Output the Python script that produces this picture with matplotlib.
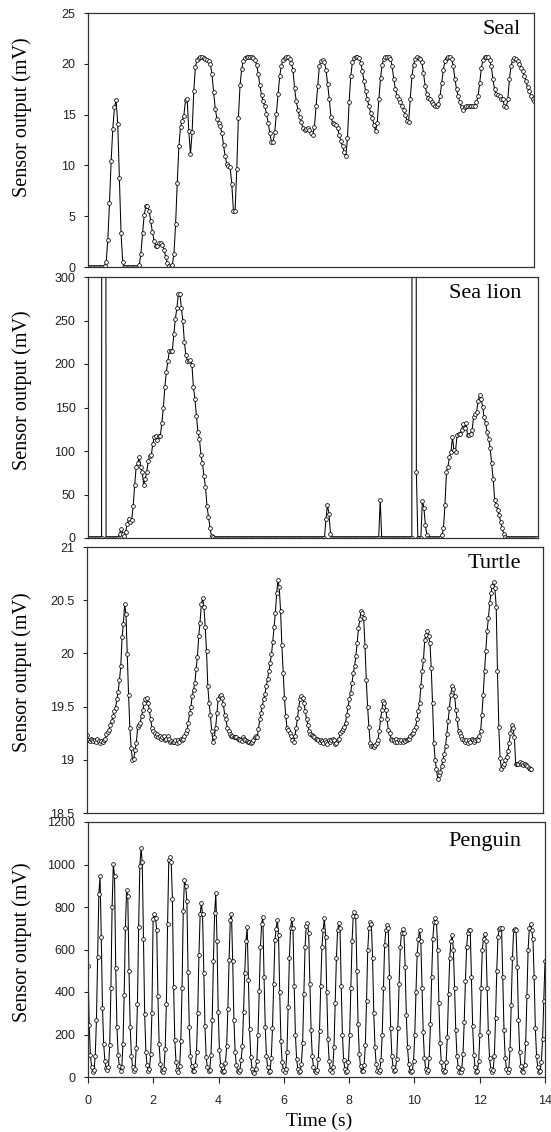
import numpy as np
import matplotlib
matplotlib.use("Agg")
import matplotlib.pyplot as plt
from matplotlib.ticker import FuncFormatter

# ---------------------------------------------------------------- data (mV)
seal_end = 13.67
seal_mv = [
    0, 0, 0, 0, 0, 0, 0, 0, 0, 0, 0.1,
    0.5, 2.7, 6.3, 10.4, 13.6, 15.7, 16.4, 14.1, 8.8, 3.3, 0.5, 0,
    0, 0, 0, 0, 0, 0, 0, 0,
    0.2, 1.3, 3.3, 5.1, 6.0, 6.0, 5.5, 4.5, 3.4, 2.6, 2.1, 2.1, 2.4, 2.4, 2.2,
    1.7, 1.0, 0.4, 0.1, 0, 0.2,
    1.3, 4.2, 8.3, 11.9, 13.8, 14.4, 14.9, 16.4, 16.5, 13.4, 11.1, 13.3, 17.3,
    19.7, 20.4, 20.6, 20.7, 20.7, 20.6, 20.5, 20.4, 20.3, 20.0, 19.0, 17.2,
    15.6, 14.6, 14.2, 13.9, 13.2, 12.0, 10.9, 10.1, 9.9, 9.8, 8.2, 5.5, 5.5,
    9.6, 14.7, 17.9, 19.5, 20.3, 20.6, 20.7, 20.7, 20.7, 20.7, 20.6, 20.4,
    19.9, 19.0, 17.9, 16.9, 16.3, 15.8, 15.1, 14.2, 13.2, 12.3, 12.3, 13.3,
    15.1,
    17.0, 18.8, 19.8, 20.4, 20.6, 20.7, 20.7, 20.5, 20.1, 19.4, 17.6, 16.3,
    15.5, 14.8, 14.3, 13.7, 13.5, 13.6, 13.7, 13.5, 13.2, 13.0, 13.8, 15.8,
    17.8, 19.8, 20.3, 20.4, 20.2, 19.4, 18.0, 16.5, 14.8, 14.2, 14.1, 14.0,
    13.7, 13.0, 12.4, 11.9, 11.3, 10.9, 12.7, 16.2, 18.8, 20.2, 20.6, 20.7,
    20.7, 20.6, 20.1, 19.3, 18.3, 17.3, 16.5, 15.8, 15.2, 14.7, 14.0, 13.4,
    14.2, 16.5, 18.6, 19.9, 20.5, 20.7, 20.7, 20.7, 20.5, 19.8, 18.5, 17.5,
    16.8, 16.5, 16.2, 15.8, 15.5, 15.0, 14.4, 14.3, 16.5, 18.8, 19.9, 20.5,
    20.7, 20.6, 20.5, 20.2, 19.1, 17.8, 17.0, 16.6, 16.5, 16.2, 16.0, 15.8,
    15.8, 16.0, 16.8, 18.1, 19.4, 20.3, 20.6, 20.7, 20.7, 20.5, 19.8, 18.5,
    17.5, 16.8, 16.2, 15.7, 15.5, 15.7, 15.8, 15.8, 15.8, 15.8, 15.8, 15.8,
    16.2, 16.8, 18.1, 19.6, 20.4, 20.7, 20.7, 20.7, 20.4, 19.8, 18.5, 17.5,
    17.0, 16.9, 16.8, 16.5, 16.5, 15.8, 15.7, 16.5, 18.5, 19.8, 20.4, 20.6,
    20.5, 20.3, 20.0, 19.6, 19.3, 18.8, 18.3, 17.7, 17.3, 16.8, 16.5, 16.3,
]

# off-scale saturation samples are stored as 3000 mV
sealion_end = 13.75
sealion_mv = (
    [0] * 10 + [3000, 3000] + [0] * 9
    + [5, 10.8, 5, 2, 7, 16, 22, 18, 21, 37, 61, 82, 86, 93, 82, 76, 61, 68,
       76, 88, 94, 95, 108, 116, 117, 113, 117, 117, 132, 149, 173, 191, 203,
       215, 215, 215, 235, 252, 264, 281, 281, 264, 249, 225, 210, 204, 204,
       205, 199, 173, 160, 140, 122, 114, 95, 86, 71, 59, 37, 24, 12, 2, 1]
    + [0] * 74
    + [22, 38, 28, 5]
    + [0] * 32 + [44] + [0] * 21
    + [3000, 3000, 76, 0, 0, 0, 43, 35, 15, 3]
    + [0] * 9
    + [3, 11, 38, 76, 82, 93, 99, 116, 101, 99, 118, 120, 120, 124, 131, 126,
       132, 118, 118, 120, 124, 139, 143, 145, 157, 164, 160, 151, 139, 132,
       122, 114, 103, 86, 68, 44, 38, 32, 26, 18, 11, 5, 1]
    + [0] * 21
)

turtle_end = 13.61
turtle_mv = [
    19.23, 19.19, 19.18, 19.20, 19.19, 19.18, 19.19, 19.17, 19.20, 19.18,
    19.16, 19.18,
    19.17, 19.19, 19.20, 19.24, 19.26, 19.28, 19.33, 19.36, 19.41, 19.46,
    19.49, 19.57, 19.64, 19.75, 19.88, 20.15, 20.28, 20.46, 20.37, 19.99,
    19.61, 19.30, 19.11, 19.00, 19.01, 19.09, 19.16, 19.31, 19.33, 19.35,
    19.41, 19.47, 19.53, 19.57, 19.58, 19.53, 19.47, 19.38, 19.30, 19.27,
    19.25, 19.22, 19.24, 19.21, 19.22, 19.20, 19.21, 19.22, 19.19, 19.20,
    19.22, 19.20, 19.17, 19.18, 19.17, 19.17, 19.19, 19.16,
    19.19, 19.17, 19.20, 19.19, 19.20, 19.22, 19.25, 19.28, 19.35, 19.44,
    19.50, 19.60, 19.66, 19.72, 19.85, 19.97, 20.16, 20.29, 20.46, 20.52,
    20.44, 20.25, 20.02, 19.69, 19.53, 19.42, 19.27, 19.17, 19.21, 19.30,
    19.44, 19.57, 19.60, 19.61, 19.58, 19.52, 19.42, 19.38, 19.30, 19.27,
    19.24, 19.22, 19.22, 19.21, 19.21, 19.21, 19.20, 19.20, 19.19, 19.18,
    19.21, 19.20, 19.19, 19.18, 19.17,
    19.17, 19.16, 19.17, 19.19, 19.21, 19.22, 19.21, 19.29, 19.38, 19.44,
    19.51, 19.57, 19.62, 19.69, 19.76, 19.83, 19.91, 19.99, 20.11, 20.25,
    20.38, 20.57, 20.69, 20.62, 20.40, 20.08, 19.82, 19.58, 19.41, 19.30,
    19.28, 19.25, 19.22, 19.19, 19.17, 19.22, 19.30, 19.39, 19.49, 19.57,
    19.60, 19.58, 19.53, 19.46, 19.38, 19.33, 19.27, 19.24, 19.23, 19.22,
    19.21, 19.20, 19.20, 19.19, 19.17, 19.19, 19.18, 19.16, 19.19, 19.17,
    19.15, 19.19, 19.17, 19.19, 19.20, 19.19, 19.15, 19.16, 19.19, 19.20,
    19.25, 19.27, 19.29, 19.31, 19.35, 19.42, 19.50, 19.57, 19.63, 19.72,
    19.82, 19.88, 19.98, 20.10, 20.24, 20.32, 20.40, 20.38, 20.33, 20.07,
    19.75, 19.50, 19.31, 19.16, 19.13, 19.13, 19.12, 19.14, 19.16, 19.19,
    19.27, 19.38, 19.47, 19.55, 19.53, 19.47, 19.38, 19.28, 19.25, 19.20,
    19.19, 19.19, 19.17, 19.20, 19.17, 19.19, 19.17, 19.19, 19.17, 19.19,
    19.18, 19.19, 19.20, 19.20, 19.22, 19.24, 19.25, 19.28, 19.31, 19.38,
    19.46, 19.53, 19.69, 19.83, 19.94, 20.13, 20.17, 20.21, 20.16, 20.10,
    19.86, 19.53, 19.16, 19.00, 18.91, 18.82, 18.86, 18.89, 18.94, 19.00,
    19.05, 19.13, 19.24, 19.36, 19.49, 19.61, 19.69, 19.67, 19.60, 19.47,
    19.38, 19.27, 19.25, 19.22, 19.20, 19.19, 19.17, 19.19, 19.16, 19.19,
    19.17, 19.20, 19.19, 19.17, 19.19, 19.20, 19.19, 19.22, 19.27, 19.42,
    19.61, 19.83, 20.02, 20.21, 20.33, 20.47, 20.57, 20.63, 20.67, 20.61,
    20.44, 19.83, 19.31, 19.02, 18.91, 18.94, 18.96, 19.00, 19.03, 19.08,
    19.16, 19.25, 19.33, 19.30, 19.21, 18.96, 18.96, 18.96, 18.98, 18.96,
    18.97, 18.95, 18.96, 18.95, 18.94, 18.92, 18.91, 18.91,
]

penguin_end = 14.0
penguin_mv = [
    524, 244, 105, 45, 22, 35, 99, 267, 566, 862,
    944, 660, 327, 157, 75, 42, 31, 47, 149, 417, 802,
    1002, 944, 515, 236, 105, 50, 30, 45, 155, 385, 700,
    880, 850, 500, 235, 100, 45, 28, 40, 135, 345, 705, 995,
    1077, 1010, 650, 295, 120, 55, 30, 40, 110, 300, 745,
    766, 750, 690, 380, 155, 60, 30, 25, 38, 130, 345, 720, 1020,
    1033, 1010, 840, 425, 175, 70, 35, 25, 50, 170, 420, 780,
    928, 900, 830, 495, 235, 100, 50, 28, 30, 55, 120, 300, 575, 765,
    818, 765, 490, 240, 95, 45, 28, 35, 105, 270, 545, 770,
    865, 640, 305, 125, 55, 30, 22, 30, 65, 145, 320, 550, 740,
    766, 545, 270, 120, 55, 30, 22, 35, 80, 145, 305, 490, 640,
    705, 455, 225, 95, 40, 25, 20, 40, 75, 200, 405, 610, 720,
    755, 470, 235, 100, 45, 25, 30, 90, 230, 440, 645, 695,
    739, 670, 400, 170, 70, 35, 25, 40, 120, 330, 560, 700,
    744, 700, 430, 200, 85, 40, 25, 28, 60, 160, 390, 610, 710,
    723, 680, 440, 220, 100, 45, 28, 25, 35, 85, 215, 430, 610, 690,
    747, 660, 400, 180, 75, 35, 25, 45, 140, 350, 560, 690,
    726, 700, 430, 200, 80, 40, 25, 30, 70, 200, 420, 640, 760,
    778, 760, 500, 250, 110, 50, 28, 30, 55, 150, 360, 600, 700,
    731, 720, 560, 300, 140, 60, 30, 25, 35, 80, 200, 420, 620, 690,
    716, 700, 470, 230, 100, 45, 28, 35, 85, 230, 440, 610, 680,
    695, 680, 520, 290, 140, 60, 30, 22, 30, 75, 200, 400, 580, 650,
    692, 640, 420, 210, 90, 40, 25, 35, 90, 250, 470, 650, 730,
    747, 730, 600, 350, 160, 70, 32, 22, 28, 70, 190, 390, 560, 640,
    668, 600, 420, 220, 100, 45, 25, 22, 40, 110, 260, 450, 610, 680,
    692, 692, 470, 240, 105, 45, 25, 30, 75, 200, 420, 600, 650,
    673, 640, 420, 210, 90, 40, 25, 35, 100, 280, 500, 660, 695,
    703, 700, 470, 220, 90, 40, 25, 40, 130, 340, 560, 690,
    695, 690, 520, 270, 120, 50, 28, 25, 55, 160, 380, 600, 700,
    720, 690, 650, 470, 230, 100, 45, 25, 30, 70, 180, 360, 546,
]

panel_names = ["Seal", "Sea lion", "Turtle", "Penguin"]
panel_series = [seal_mv, sealion_mv, turtle_mv, penguin_mv]
panel_ends = [seal_end, sealion_end, turtle_end, penguin_end]
panel_ylims = [(0, 25), (0, 300), (18.5, 21), (0, 1200)]
panel_yticks = [
    [0, 5, 10, 15, 20, 25],
    [0, 50, 100, 150, 200, 250, 300],
    [18.5, 19, 19.5, 20, 20.5, 21],
    [0, 200, 400, 600, 800, 1000, 1200],
]
time_ticks = [0, 2, 4, 6, 8, 10, 12, 14]

# ---------------------------------------------------------------- layout
W, H = 551, 1132
fig = plt.figure(figsize=(W / 100, H / 100), dpi=100)

PX_PER_S = 457 / 14.0
# (left, right, top, bottom) of each panel in pixels
boxes = [(88, 534, 13, 267), (88, 538, 277, 538),
         (87, 543, 547, 813), (88, 545, 822, 1077)]
ylabel_centres = [117, 390, 672, 942]
title_tops = [20, 284, 554, 832]

SERIF = "Liberation Serif"
SANS = "Liberation Sans"
fmt = FuncFormatter(lambda v, pos: f"{v:g}")

for k, (name, vals, t_end, ylim, yt, box) in enumerate(
        zip(panel_names, panel_series, panel_ends, panel_ylims,
            panel_yticks, boxes)):
    l, r, t, b = box
    ax = fig.add_axes([l / W, 1 - b / H, (r - l) / W, (b - t) / H])
    times = np.linspace(0, t_end, len(vals))
    ax.plot(times, vals, "-", color="black", lw=0.75,
            marker="o", ms=2.7, mfc="white", mec="black", mew=0.55)
    ax.set_xlim(0, (r - l) / PX_PER_S)
    ax.set_ylim(*ylim)
    ax.set_yticks(yt)
    ax.yaxis.set_major_formatter(fmt)
    for s in ax.spines.values():
        s.set_color("#333333")
        s.set_linewidth(0.9)
    ax.tick_params(axis="y", direction="out", length=3, width=0.8,
                   labelsize=9, pad=6, colors="#222222")
    for lab in ax.get_yticklabels():
        lab.set_family(SANS)
    if k == 3:
        ax.set_xticks(time_ticks)
        ax.tick_params(axis="x", direction="out", length=4, width=0.8,
                       labelsize=9, pad=9, colors="#222222")
        for lab in ax.get_xticklabels():
            lab.set_family(SANS)
    else:
        ax.set_xticks([])

    fig.text(22 / W, 1 - ylabel_centres[k] / H, "Sensor output (mV)",
             rotation=90, ha="center", va="center", fontsize=14.5,
             family=SERIF)
    fig.text(521 / W, 1 - title_tops[k] / H, name, ha="right", va="top",
             fontsize=16, family=SERIF)

fig.text(319 / W, 1 - 1121 / H, "Time (s)", ha="center", va="center",
         fontsize=14, family=SERIF)

fig.savefig("out.png", dpi=100)
